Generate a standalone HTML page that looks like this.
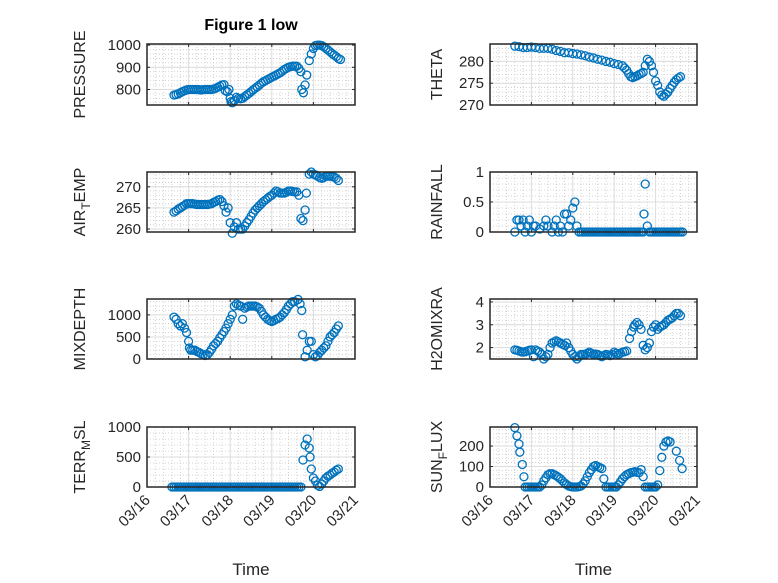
<!DOCTYPE html>
<html><head><meta charset="utf-8"><style>
body{margin:0;background:#fff;}
svg{display:block;font-family:"Liberation Sans",sans-serif;}
</style></head><body>
<svg id="fig" width="778" height="583" viewBox="0 0 778 583"></svg>
<script>
const xTickLabels=["03/16","03/17","03/18","03/19","03/20","03/21"];
// time in days since 03/16 00:00
const pressureT=[0.65,0.7,0.75,0.8,0.85,0.9,0.95,1.0,1.05,1.1,1.15,1.2,1.25,1.3,1.35,1.4,1.45,1.5,1.55,1.6,1.65,1.7,1.75,1.8,1.85,1.88,1.93,1.97,2.0,2.02,2.05,2.1,2.15,2.2,2.25,2.3,2.35,2.4,2.45,2.5,2.55,2.6,2.65,2.7,2.75,2.8,2.85,2.9,2.95,3.0,3.05,3.1,3.15,3.2,3.25,3.3,3.35,3.4,3.45,3.5,3.55,3.6,3.65,3.7,3.72,3.76,3.8,3.84,3.9,3.95,4.0,4.05,4.1,4.15,4.2,4.25,4.3,4.35,4.4,4.45,4.5,4.55,4.6,4.65];
const pressureV=[775,777,780,785,790,794,798,800,800,800,800,800,799,798,799,800,800,800,800,802,805,810,815,820,822,795,790,800,760,745,740,750,765,760,758,760,768,775,782,790,798,805,812,820,828,835,840,845,850,855,860,865,870,875,882,890,895,900,903,905,905,905,895,880,800,785,820,865,930,960,985,998,1000,1000,998,992,985,978,970,962,955,948,940,935];
const thetaT=[0.6,0.7,0.8,0.9,1.0,1.1,1.2,1.3,1.4,1.5,1.6,1.7,1.8,1.9,2.0,2.1,2.2,2.3,2.4,2.5,2.6,2.7,2.8,2.9,3.0,3.1,3.2,3.25,3.3,3.35,3.4,3.45,3.5,3.55,3.6,3.65,3.7,3.75,3.8,3.85,3.9,3.95,4.0,4.05,4.1,4.15,4.2,4.25,4.3,4.35,4.4,4.45,4.5,4.55,4.6];
const thetaV=[283.5,283.4,283.2,283.2,283.3,283.2,283.0,283.0,283.0,282.8,282.5,282.3,282.0,282.0,281.8,281.7,281.5,281.3,281.0,280.8,280.5,280.3,280,279.8,279.5,279.3,279,278.5,278,277.2,276.5,276.3,276.5,276.7,277,277.2,277.5,279,280.5,280,279,277.5,275.5,274.5,273,272.3,272,272.5,273,273.8,274.5,275.2,275.8,276.2,276.5];
const airT=[0.65,0.7,0.75,0.8,0.85,0.9,0.95,1.0,1.05,1.1,1.15,1.2,1.25,1.3,1.35,1.4,1.45,1.5,1.55,1.6,1.65,1.7,1.75,1.8,1.85,1.9,1.95,2.0,2.05,2.1,2.15,2.2,2.25,2.3,2.35,2.4,2.45,2.5,2.55,2.6,2.65,2.7,2.75,2.8,2.85,2.9,2.95,3.0,3.05,3.1,3.15,3.2,3.25,3.3,3.35,3.4,3.45,3.5,3.55,3.6,3.65,3.7,3.75,3.8,3.83,3.9,3.95,4.0,4.05,4.1,4.15,4.2,4.25,4.3,4.35,4.4,4.45,4.5,4.55,4.6];
const airV=[264,264.3,264.7,265,265.3,265.6,266,266,266,266,265.9,265.8,265.8,265.8,265.8,265.8,265.8,265.9,266,266.3,266.5,266.8,267,266.5,265.5,264,265,261.5,259,260.5,261.5,260,260,260,260.7,261.5,262.2,263,263.8,264.5,265,265.5,266,266.5,266.9,267.3,267.7,268,268.5,269,268.8,268.5,268.5,268.5,268.7,269,269,268.9,268.8,268.8,268,262.5,262,264.5,268.5,273,273.5,273,272.8,272.5,272.2,272,272.2,272.5,272.5,272.5,272.4,272.3,272,271.5];
const rainT=[0.6,0.65,0.7,0.75,0.8,0.85,0.9,0.95,1.0,1.05,1.1,1.2,1.3,1.35,1.4,1.5,1.55,1.6,1.65,1.7,1.75,1.8,1.85,1.9,1.95,2.0,2.05,2.1,2.15,2.2,2.25,2.3,2.35,2.4,2.45,2.5,2.55,2.6,2.65,2.7,2.75,2.8,2.85,2.9,2.95,3.0,3.05,3.1,3.15,3.2,3.25,3.3,3.35,3.4,3.45,3.5,3.55,3.6,3.65,3.7,3.72,3.75,3.8,3.85,3.9,3.95,4.0,4.05,4.1,4.15,4.2,4.25,4.3,4.35,4.4,4.45,4.5,4.55,4.6,4.65];
const rainV=[0,0.2,0.2,0.1,0.2,0,0.1,0.2,0,0.1,0.1,0.05,0.1,0.2,0.1,0,0.1,0.2,0,0.1,0,0.3,0.3,0.1,0.2,0.4,0.5,0.1,0,0,0,0,0,0,0,0,0,0,0,0,0,0,0,0,0,0,0,0,0,0,0,0,0,0,0,0,0,0,0,0,0.3,0.8,0.1,0,0,0,0,0,0,0,0,0,0,0,0,0,0,0,0,0];
const mixT=[0.65,0.7,0.75,0.8,0.85,0.9,0.95,1.0,1.02,1.05,1.1,1.15,1.2,1.25,1.3,1.35,1.4,1.45,1.5,1.55,1.6,1.65,1.7,1.75,1.8,1.85,1.9,1.95,2.0,2.05,2.1,2.15,2.2,2.25,2.3,2.35,2.4,2.45,2.5,2.55,2.6,2.65,2.7,2.75,2.8,2.85,2.9,2.95,3.0,3.05,3.1,3.15,3.2,3.25,3.3,3.35,3.4,3.45,3.5,3.55,3.63,3.68,3.72,3.74,3.8,3.85,3.9,3.95,4.0,4.05,4.1,4.15,4.2,4.25,4.3,4.35,4.4,4.45,4.5,4.55,4.6];
const mixV=[950,900,800,750,800,700,600,400,250,200,200,200,170,150,120,100,80,100,150,220,300,350,400,480,550,620,700,800,900,1000,1200,1250,1220,1200,900,1150,1180,1200,1200,1200,1200,1180,1150,1080,1000,950,900,870,850,870,900,920,950,1000,1050,1120,1200,1250,1300,1300,1350,1250,1100,550,50,200,400,400,100,50,80,150,200,250,300,400,500,550,600,680,750];
const h2oT=[0.6,0.65,0.7,0.75,0.8,0.85,0.9,0.95,1.0,1.05,1.1,1.15,1.2,1.25,1.3,1.35,1.4,1.45,1.5,1.55,1.6,1.65,1.7,1.75,1.8,1.85,1.9,1.95,2.0,2.05,2.1,2.15,2.2,2.25,2.3,2.35,2.4,2.45,2.5,2.55,2.6,2.65,2.7,2.75,2.8,2.85,2.9,2.95,3.0,3.05,3.1,3.15,3.2,3.25,3.3,3.37,3.42,3.47,3.5,3.55,3.6,3.65,3.7,3.75,3.8,3.85,3.9,3.95,4.0,4.05,4.1,4.15,4.2,4.25,4.3,4.35,4.4,4.45,4.5,4.55,4.6];
const h2oV=[1.9,1.88,1.85,1.82,1.8,1.82,1.85,1.88,1.9,1.6,1.9,1.85,1.8,1.7,1.5,1.6,1.7,2.0,2.2,2.25,2.3,2.25,2.2,2.15,2.1,2.2,2.0,1.85,1.7,1.6,1.5,1.6,1.7,1.7,1.7,1.75,1.8,1.75,1.7,1.72,1.7,1.65,1.6,1.65,1.7,1.68,1.65,1.7,1.8,1.75,1.7,1.75,1.8,1.82,1.85,2.4,2.7,2.9,3.0,3.1,3.0,2.8,2.1,1.9,2.0,2.2,2.7,2.9,3.0,2.8,2.9,2.95,3.0,3.1,3.2,3.25,3.3,3.4,3.5,3.5,3.4];
const terrT=[0.6,0.65,0.7,0.75,0.8,0.85,0.9,0.95,1.0,1.05,1.1,1.15,1.2,1.25,1.3,1.35,1.4,1.45,1.5,1.55,1.6,1.65,1.7,1.75,1.8,1.85,1.9,1.95,2.0,2.05,2.1,2.15,2.2,2.25,2.3,2.35,2.4,2.45,2.5,2.55,2.6,2.65,2.7,2.75,2.8,2.85,2.9,2.95,3.0,3.05,3.1,3.15,3.2,3.25,3.3,3.35,3.4,3.45,3.5,3.55,3.6,3.65,3.7,3.75,3.8,3.85,3.9,3.92,3.95,4.0,4.05,4.1,4.15,4.2,4.25,4.3,4.35,4.4,4.45,4.5,4.55,4.6];
const terrV=[0,0,0,0,0,0,0,0,0,0,0,0,0,0,0,0,0,0,0,0,0,0,0,0,0,0,0,0,0,0,0,0,0,0,0,0,0,0,0,0,0,0,0,0,0,0,0,0,0,0,0,0,0,0,0,0,0,0,0,0,0,0,0,450,700,800,650,500,300,150,100,30,10,50,100,150,180,200,230,250,280,300];
const sunT=[0.6,0.65,0.7,0.72,0.78,0.82,0.85,0.9,0.95,1.0,1.05,1.1,1.15,1.2,1.25,1.3,1.35,1.4,1.45,1.5,1.55,1.6,1.65,1.7,1.75,1.8,1.85,1.9,1.95,2.0,2.05,2.1,2.15,2.2,2.25,2.3,2.35,2.4,2.45,2.5,2.55,2.6,2.65,2.7,2.75,2.8,2.85,2.9,2.95,3.0,3.05,3.1,3.15,3.2,3.25,3.3,3.35,3.4,3.45,3.5,3.55,3.6,3.65,3.7,3.75,3.8,3.85,3.9,3.95,4.0,4.05,4.1,4.15,4.2,4.25,4.3,4.35,4.5,4.58,4.64];
const sunV=[290,250,210,170,110,50,0,0,0,0,0,0,0,0,10,30,45,60,65,65,60,55,48,40,30,20,12,5,2,0,0,0,2,5,15,30,50,70,85,100,105,100,95,90,40,0,0,0,0,0,0,10,25,40,50,60,65,70,72,75,72,70,85,50,0,0,0,0,0,0,10,80,145,200,220,225,220,175,130,90];

const panels=[
 {name:"pressure",label:["PRESSURE"],x0:147,x1:355,y0:44,y1:105,dom:[730,1005],ticks:[800,900,1000],minor:20,t:pressureT,v:pressureV},
 {name:"theta",label:["THETA"],x0:490,x1:697,y0:44,y1:105,dom:[270,284],ticks:[270,275,280],minor:1,t:thetaT,v:thetaV},
 {name:"air-temp",label:["AIR","T","EMP"],x0:147,x1:355,y0:172,y1:232,dom:[259.3,273.5],ticks:[260,265,270],minor:1,t:airT,v:airV},
 {name:"rainfall",label:["RAINFALL"],x0:490,x1:697,y0:172,y1:232,dom:[0,1],ticks:[0,0.5,1],minor:0.1,t:rainT,v:rainV},
 {name:"mixdepth",label:["MIXDEPTH"],x0:147,x1:355,y0:299,y1:359,dom:[0,1360],ticks:[0,500,1000],minor:100,t:mixT,v:mixV},
 {name:"h2omixra",label:["H2OMIXRA"],x0:490,x1:697,y0:299,y1:359,dom:[1.5,4.13],ticks:[2,3,4],minor:0.2,t:h2oT,v:h2oV},
 {name:"terr-msl",label:["TERR","M","SL"],x0:147,x1:355,y0:427,y1:487,dom:[0,1000],ticks:[0,500,1000],minor:100,t:terrT,v:terrV},
 {name:"sun-flux",label:["SUN","F","LUX"],x0:490,x1:697,y0:427,y1:487,dom:[0,293],ticks:[0,100,200],minor:20,t:sunT,v:sunV}
];
const NS="http://www.w3.org/2000/svg";
const svg=document.getElementById('fig');
function mk(tag,attrs,parent){const e=document.createElementNS(NS,tag);for(const k in attrs)e.setAttribute(k,attrs[k]);(parent||svg).appendChild(e);return e;}
panels.forEach((p,idx)=>{
 const g=mk('g',{});
 
 
 const xs=t=>p.x0+(t/5)*(p.x1-p.x0);
 const ys=v=>p.y1-(v-p.dom[0])/(p.dom[1]-p.dom[0])*(p.y1-p.y0);
 for(let d=0;d<5;d+=0.2){if(Math.abs(d-Math.round(d))<1e-6)continue;
  mk('line',{x1:xs(d),x2:xs(d),y1:p.y0,y2:p.y1,stroke:'#c8c8c8','stroke-width':0.8,'stroke-dasharray':'1,2'},g);}
 const m0=Math.ceil(p.dom[0]/p.minor)*p.minor;
 for(let v=m0;v<=p.dom[1];v+=p.minor){
  mk('line',{x1:p.x0,x2:p.x1,y1:ys(v),y2:ys(v),stroke:'#c8c8c8','stroke-width':0.8,'stroke-dasharray':'1,2'},g);}
 for(let d=1;d<5;d++) mk('line',{x1:xs(d),x2:xs(d),y1:p.y0,y2:p.y1,stroke:'#dcdcdc','stroke-width':1},g);
 p.ticks.forEach(v=>{mk('line',{x1:p.x0,x2:p.x1,y1:ys(v),y2:ys(v),stroke:'#dcdcdc','stroke-width':1},g);
  const tl=mk('text',{x:p.x0-6,y:ys(v)+5,'text-anchor':'end','font-size':15,fill:'#262626'},g);tl.textContent=String(v);
  
  
  mk('line',{x1:p.x0,x2:p.x0+3,y1:ys(v),y2:ys(v),stroke:'#262626'},g);
  mk('line',{x1:p.x1,x2:p.x1-3,y1:ys(v),y2:ys(v),stroke:'#262626'},g);});
 for(let d=0;d<=5;d++){mk('line',{x1:xs(d),x2:xs(d),y1:p.y1,y2:p.y1-3,stroke:'#262626'},g);mk('line',{x1:xs(d),x2:xs(d),y1:p.y0,y2:p.y0+3,stroke:'#262626'},g);}
 p.t.forEach((t,i)=>{const c=mk('circle',{cx:xs(t),cy:ys(p.v[i]),r:4,fill:'none',stroke:'#0072BD','stroke-width':1.3},g);
  
  });
 const box=mk('rect',{x:p.x0,y:p.y0,width:p.x1-p.x0,height:p.y1-p.y0,fill:'none',stroke:'#262626','stroke-width':1.5},g);
 
 
 const cy=(p.y0+p.y1)/2, lx=p.x0-(idx%2?48:62);
 const yl=mk('text',{x:lx,y:cy,'text-anchor':'middle','font-size':16,fill:'#262626',transform:`rotate(-90 ${lx} ${cy})`},g);
 
 
 if(p.label.length===1) yl.textContent=p.label[0];
 else{const a=mk('tspan',{},yl);a.textContent=p.label[0];
  const b=mk('tspan',{dy:5,'font-size':12},yl);b.textContent=p.label[1];
  const c=mk('tspan',{dy:-5},yl);c.textContent=p.label[2];}
 if(idx>=6){
  xTickLabels.forEach((s,d)=>{const x=xs(d)+4,y=p.y1+14;
   const tl=mk('text',{x:x,y:y,'text-anchor':'end','font-size':15,fill:'#262626',transform:`rotate(-45 ${x} ${y})`},g);tl.textContent=s;
   
   });
  const xt=mk('text',{x:(p.x0+p.x1)/2,y:575,'text-anchor':'middle','font-size':17,fill:'#262626'},g);xt.textContent='Time';
  
  
 }
});
const title=mk('text',{x:251,y:30,'text-anchor':'middle','font-size':16,'font-weight':'bold',fill:'#000'});
title.textContent='Figure 1 low';


</script>
</body></html>
